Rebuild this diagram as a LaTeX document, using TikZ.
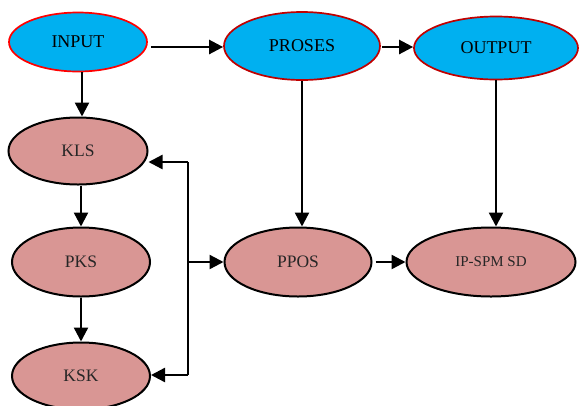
\documentclass[tikz,border=0pt]{standalone}
\usepackage{fontspec}
\setmainfont{Liberation Serif}
\newfontfamily\diafont{Liberation Serif}
\usetikzlibrary{shapes.geometric,arrows.meta,calc}
\definecolor{cyanfill}{HTML}{00B0F0}
\definecolor{darkred}{HTML}{C00000}
\definecolor{pinkfill}{HTML}{D99694}
\definecolor{pinktext}{HTML}{262626}
\tikzset{
  blue node/.style={ellipse, fill=cyanfill, draw=darkred, line width=1.7pt, inner sep=0pt, font=\diafont\fontsize{18}{21}\selectfont},
  pink node/.style={ellipse, fill=pinkfill, draw=black, line width=2pt, inner sep=0pt, text=pinktext, font=\diafont\fontsize{17.5}{21}\selectfont},
  conn/.style={line width=2.4pt, draw=black},
  arr/.style={conn, -{Triangle[length=14pt,width=14pt]}},
}
\begin{document}
\begin{tikzpicture}[x=1pt,y=-1pt]
\useasboundingbox (0,0) rectangle (580,405);
\node[blue node, draw=red, minimum width=138, minimum height=59] (in) at (78,42) {INPUT};
\node[blue node, minimum width=156, minimum height=68] (pr) at (302,46) {PROSES};
\node[blue node, minimum width=164, minimum height=63] (out) at (496,48) {OUTPUT};
\node[pink node, minimum width=139, minimum height=67] (kls) at (78,151) {KLS};
\node[pink node, minimum width=138, minimum height=69] (pks) at (81,262) {PKS};
\node[pink node, minimum width=138, minimum height=67] (ksk) at (81,376) {KSK};
\node[pink node, minimum width=147, minimum height=69] (ppos) at (298,262) {PPOS};
\node[pink node, minimum width=169, minimum height=69, font=\diafont\fontsize{15}{18}\selectfont] (ip) at (491,262) {IP-SPM SD};
\coordinate (b1) at (188,162);
\coordinate (b2) at (188,375);
\coordinate (bm) at (188,262);
\coordinate (toprow) at (0,47);
% top row
\draw[arr] ([xshift=3pt]in.east |- toprow) -- (pr.west |- toprow);
\draw[arr] ([xshift=1pt]pr.east |- toprow) -- (out.west |- toprow);
% left column
\draw[arr] ([xshift=4pt]in.south) -- ([xshift=4pt]in.south |- kls.north);
\draw[arr] (kls.south -| pks.north) -- (pks.north);
\draw[arr] (pks.south) -- (ksk.north);
% bus
\draw[conn] (b1) -- (b2);
\draw[arr] (b1) -- (b1 -| kls.east);
\draw[arr] (b2) -- (b2 -| ksk.east);
\draw[arr] (bm) -- (ppos.west);
% verticals
\draw[arr] (pr.south) -- (pr.south |- ppos.north);
\draw[arr] (out.south) -- (out.south |- ip.north);
\draw[arr] ([xshift=3pt]ppos.east) -- (ip.west);
\end{tikzpicture}
\end{document}
